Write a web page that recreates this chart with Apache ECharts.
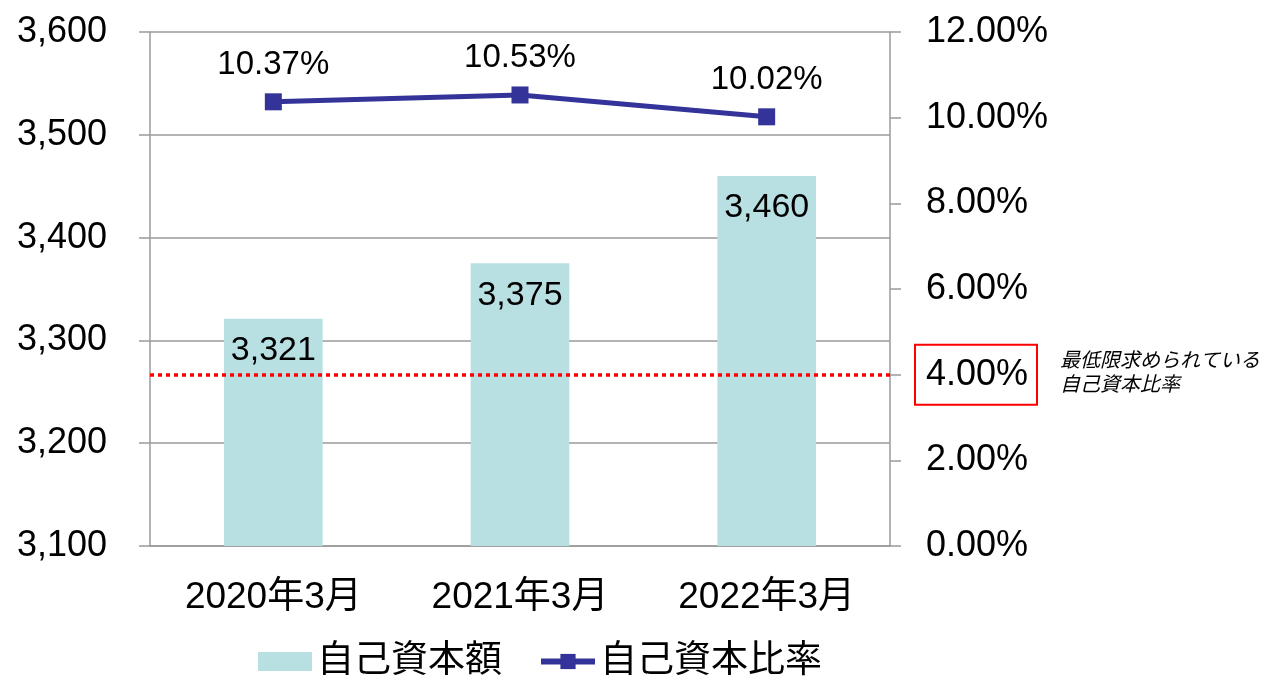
<!DOCTYPE html>
<html>
<head>
<meta charset="utf-8">
<script src="https://cdn.jsdelivr.net/npm/echarts@6/dist/echarts.min.js"></script>
<style>
  html, body { margin: 0; padding: 0; background: #fff; }
  #chart { width: 1263px; height: 677px; }
</style>
</head>
<body>
<div id="chart"></div>
<script>
const categories = ['2020年3月', '2021年3月', '2022年3月'];
const capital = [3321, 3375, 3460];
const ratio = [10.37, 10.53, 10.02];
const minimumRatio = 4;
const noteLines = ['最低限求められている', '自己資本比率'];

const FONT = "'Liberation Sans', 'Noto Sans CJK JP', sans-serif";
const AXIS_GRAY = '#9a9a9a';

const chart = echarts.init(document.getElementById('chart'));

const option = {
  backgroundColor: '#fff',
  animation: false,
  textStyle: { fontFamily: FONT, color: '#000' },
  grid: { left: 150, right: 373, top: 32, bottom: 131 },
  legend: {
    left: 253,
    top: 638,
    itemGap: 36,
    itemWidth: 54,
    itemHeight: 19,
    textStyle: { fontSize: 37, fontFamily: FONT, color: '#000' },
    data: [
      { name: '自己資本額', icon: 'rect' },
      { name: '自己資本比率', lineStyle: { width: 6 } }
    ]
  },
  xAxis: {
    type: 'category',
    data: categories,
    axisLine: { lineStyle: { color: AXIS_GRAY, width: 1.5 } },
    axisTick: { length: 10, lineStyle: { color: AXIS_GRAY, width: 1.5 } },
    axisLabel: { fontSize: 37, color: '#000', margin: 33, fontFamily: FONT }
  },
  yAxis: [
    {
      type: 'value',
      min: 3100,
      max: 3600,
      interval: 100,
      axisLine: { show: true, lineStyle: { color: AXIS_GRAY, width: 1.5 } },
      axisTick: { show: true, length: 11, lineStyle: { color: AXIS_GRAY, width: 1.5 } },
      axisLabel: {
        fontSize: 36, color: '#000', margin: 43, fontFamily: FONT,
        formatter: v => v.toLocaleString('en-US')
      },
      splitLine: { lineStyle: { color: AXIS_GRAY, width: 1.5 } }
    },
    {
      type: 'value',
      min: 0,
      max: 12,
      interval: 2,
      position: 'right',
      axisLine: { show: true, lineStyle: { color: AXIS_GRAY, width: 1.5 } },
      axisTick: { show: true, length: 11, lineStyle: { color: AXIS_GRAY, width: 1.5 } },
      axisLabel: {
        fontSize: 36, color: '#000', margin: 36, fontFamily: FONT,
        formatter: v => v.toFixed(2) + '%'
      },
      splitLine: { show: false }
    }
  ],
  series: [
    {
      name: '自己資本額',
      type: 'bar',
      data: capital,
      barWidth: '40%',
      itemStyle: { color: '#b8e0e3' },
      label: {
        show: true,
        position: 'insideTop',
        distance: 15,
        fontSize: 34,
        color: '#000',
        fontFamily: FONT,
        formatter: p => p.value.toLocaleString('en-US')
      }
    },
    {
      name: '自己資本比率',
      type: 'line',
      yAxisIndex: 1,
      data: ratio,
      symbol: 'rect',
      symbolSize: 17,
      lineStyle: { color: '#333399', width: 5 },
      itemStyle: { color: '#333399' },
      label: {
        show: true,
        position: 'top',
        distance: 12,
        fontSize: 33,
        color: '#000',
        fontFamily: FONT,
        formatter: p => p.value.toFixed(2) + '%'
      },
      markLine: {
        silent: true,
        symbol: 'none',
        label: { show: false },
        lineStyle: { color: '#ff0000', width: 3.5, type: [4, 4] },
        data: [{ yAxis: minimumRatio }]
      }
    }
  ]
};

chart.setOption(option);

// red box round the 4.00% tick label and the note beside it
const y4 = chart.convertToPixel({ yAxisIndex: 1 }, minimumRatio);
chart.setOption({
  graphic: [
    {
      type: 'rect',
      shape: { x: 915, y: y4 - 30, width: 122, height: 60 },
      style: { fill: 'none', stroke: '#ff0000', lineWidth: 2 }
    },
    {
      type: 'text',
      x: 1060,
      y: y4 - 1,
      style: {
        text: noteLines.join('\n'),
        font: 'italic 20px ' + FONT,
        lineHeight: 24,
        fill: '#000',
        verticalAlign: 'middle'
      }
    }
  ]
});
</script>
</body>
</html>
